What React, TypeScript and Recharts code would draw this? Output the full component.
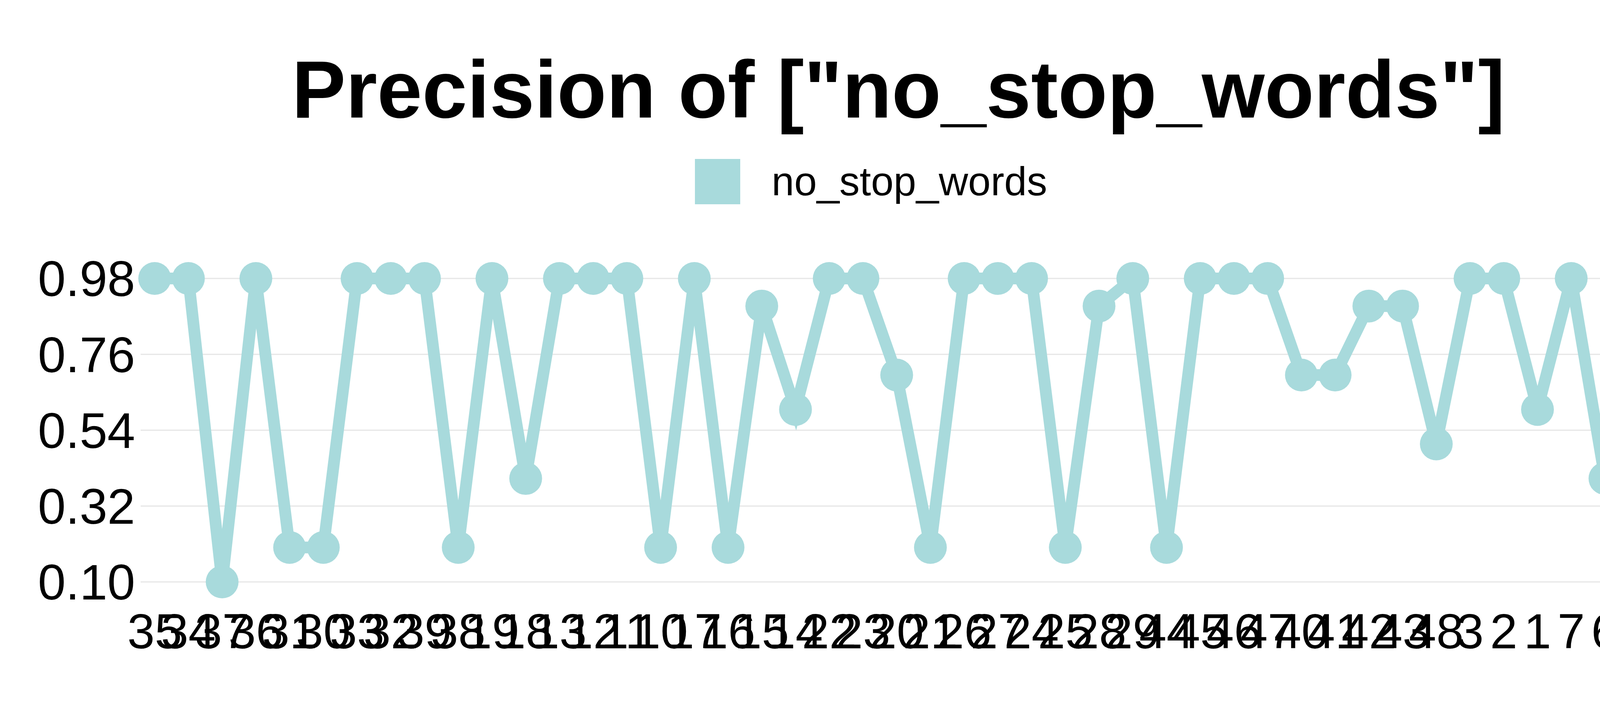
import { LineChart, Line, XAxis, YAxis, CartesianGrid } from "recharts";

const CATEGORIES = [
  "35", "34", "37", "36", "31", "30", "33", "32", "39", "38",
  "19", "18", "13", "12", "11", "10", "17", "16", "15", "14",
  "22", "23", "20", "21", "26", "27", "24", "25", "28", "29",
  "44", "45", "46", "47", "40", "41", "42", "43", "48",
  "3", "2", "1", "7", "6", "5", "4", "9", "8",
];

const NO_STOP_WORDS = [
  0.98, 0.98, 0.1, 0.98, 0.2, 0.2, 0.98, 0.98, 0.98, 0.2,
  0.98, 0.4, 0.98, 0.98, 0.98, 0.2, 0.98, 0.2, 0.9, 0.6,
  0.98, 0.98, 0.7, 0.2, 0.98, 0.98, 0.98, 0.2, 0.9, 0.98,
  0.2, 0.98, 0.98, 0.98, 0.7, 0.7, 0.9, 0.9, 0.5,
  0.98, 0.98, 0.6, 0.98, 0.4, 0.98, 0.2, 0.98, 0.98,
];

const Y_TICKS = [0.1, 0.32, 0.54, 0.76, 0.98];

const COLOR = "#a8dadc";
const FONT = "Liberation Sans, Arial, sans-serif";

const data = CATEGORIES.map((c, i) => ({ name: c, no_stop_words: NO_STOP_WORDS[i] }));

export default function App() {
  return (
    <div style={{ position: "absolute", left: 0, top: 0, width: 4600, height: 1800, background: "#fff", fontFamily: FONT }}>
      <div style={{ position: "absolute", top: 105, width: 4600, textAlign: "center", fontSize: 207, fontWeight: "bold", lineHeight: "250px" }}>
        Precision of ["no_stop_words"]
      </div>
      <div style={{ position: "absolute", top: 405, width: 4600, display: "flex", justifyContent: "center", alignItems: "center" }}>
        <div style={{ width: 116, height: 116, background: COLOR, marginRight: 80, marginLeft: -140 }} />
        <span style={{ fontSize: 104 }}>no_stop_words</span>
      </div>
      <LineChart
        width={4600}
        height={1800}
        data={data}
        margin={{ top: 713, right: 146, bottom: 160, left: 0 }}
      >
        <CartesianGrid vertical={false} stroke="#e6e6e6" strokeWidth={3} />
        <XAxis
          dataKey="name"
          scale="point"
          padding={{ left: 36, right: 0 }}
          interval={0}
          height={150}
          axisLine={false}
          tickLine={false}
          tickMargin={75}
          tick={{ fill: "#000", fontSize: 126, fontFamily: FONT }}
        />
        <YAxis
          width={360}
          domain={[0.1, 0.98]}
          ticks={Y_TICKS}
          tickFormatter={(v: number) => v.toFixed(2)}
          axisLine={false}
          tickLine={false}
          tickMargin={8}
          tick={{ fill: "#000", fontSize: 128, fontFamily: FONT }}
        />
        <Line
          dataKey="no_stop_words"
          stroke={COLOR}
          strokeWidth={30}
          dot={{ r: 42, fill: COLOR, stroke: COLOR, strokeWidth: 0 }}
          isAnimationActive={false}
        />
      </LineChart>
    </div>
  );
}
